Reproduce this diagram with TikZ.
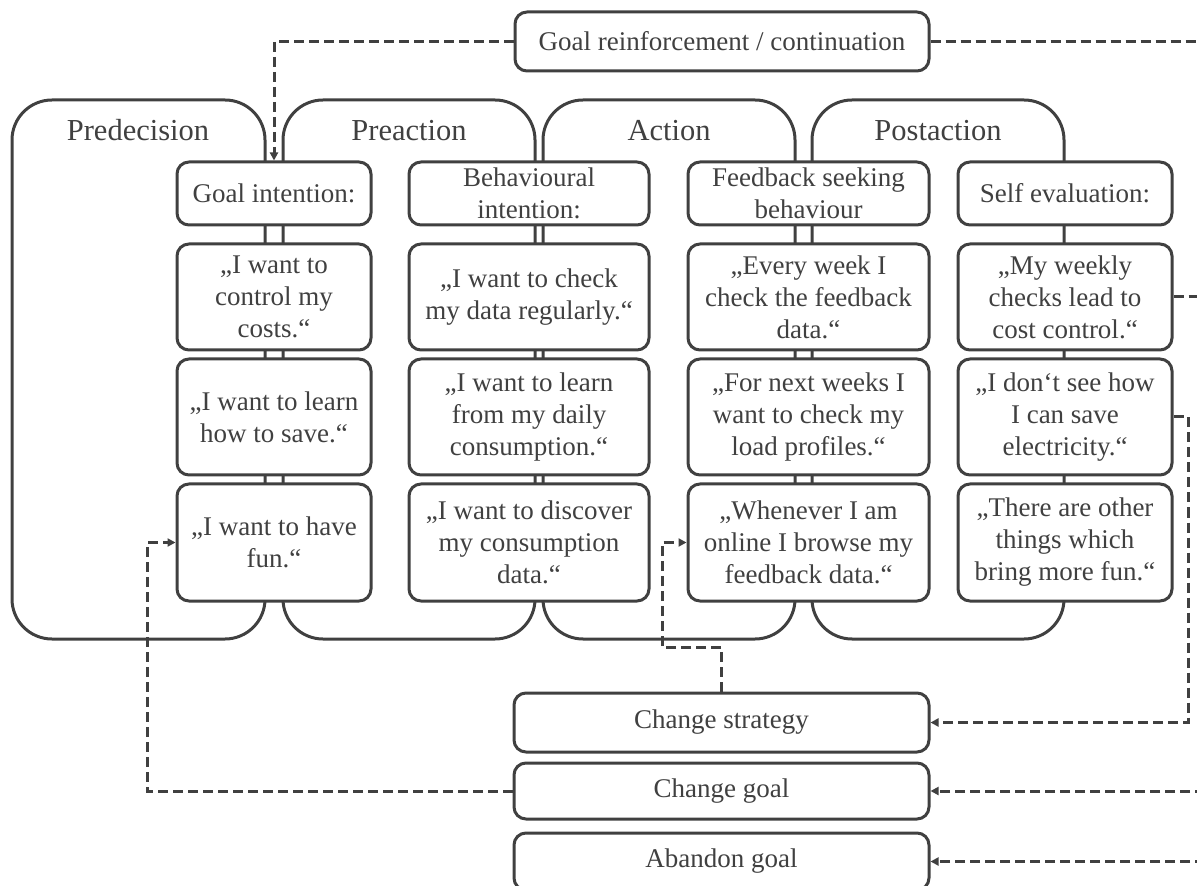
\documentclass[tikz,border=0pt]{standalone}
\usepackage{fontspec}
\setmainfont{Liberation Serif}
\usetikzlibrary{arrows.meta}
\definecolor{ln}{RGB}{64,64,64}
\definecolor{tx}{RGB}{64,64,64}
\begin{document}
\begin{tikzpicture}[x=0.5pt,y=-0.5pt,
  phase/.style={draw=ln, line width=1.5pt, rounded corners=20pt},
  plabel/.style={anchor=base, text=tx, font=\fontsize{15.25}{18}\selectfont},
  ibox/.style={draw=ln, fill=white, line width=1.5pt, rounded corners=6pt, align=center, text=tx, font=\fontsize{13.5}{16}\selectfont, inner sep=0pt},
  cA/.style={minimum width=97pt},
  cB/.style={minimum width=120pt},
  cC/.style={minimum width=120.5pt},
  cD/.style={minimum width=107pt},
  rA/.style={minimum height=31.5pt},
  rB/.style={minimum height=53pt},
  rC/.style={minimum height=58pt},
  rD/.style={minimum height=58.5pt},
  conn/.style={draw=ln, line width=1.5pt, dash pattern=on 5pt off 2.5pt},
  arr/.style={conn, -{Triangle[length=4pt,width=4pt]}},
]
\useasboundingbox (0,0) rectangle (1197,886);
\clip (0,0) rectangle (1197,886);

% phases
\draw[phase] (12,100) rectangle (265,639);
\draw[phase] (283,100) rectangle (535,639);
\draw[phase] (543,100) rectangle (795,639);
\draw[phase] (812,100) rectangle (1064,639);
\node[plabel] (p1) at (138,141) {Predecision};
\node[plabel] (p2) at (409,141) {Preaction};
\node[plabel] (p3) at (669,141) {Action};
\node[plabel] (p4) at (938,141) {Postaction};

% column 1
\node[ibox,cA,rA] (a0) at (274,193.5) {Goal intention:};
\node[ibox,cA,rB] (a1) at (274,297) {„I want to\\control my\\costs.“};
\node[ibox,cA,rC] (a2) at (274,417) {„I want to learn\\how to save.“};
\node[ibox,cA,rD] (a3) at (274,542.5) {„I want to have\\fun.“};
% column 2
\node[ibox,cB,rA] (b0) at (529,193.5) {Behavioural\\intention:};
\node[ibox,cB,rB] (b1) at (529,297) {„I want to check\\my data regularly.“};
\node[ibox,cB,rC] (b2) at (529,417) {„I want to learn\\from my daily\\consumption.“};
\node[ibox,cB,rD] (b3) at (529,542.5) {„I want to discover\\my consumption\\data.“};
% column 3
\node[ibox,cC,rA] (c0) at (808.5,193.5) {Feedback seeking\\behaviour};
\node[ibox,cC,rB] (c1) at (808.5,297) {„Every week I\\check the feedback\\data.“};
\node[ibox,cC,rC] (c2) at (808.5,417) {„For next weeks I\\want to check my\\load profiles.“};
\node[ibox,cC,rD] (c3) at (808.5,542.5) {„Whenever I am\\online I browse my\\feedback data.“};
% column 4
\node[ibox,cD,rA] (d0) at (1065,193.5) {Self evaluation:};
\node[ibox,cD,rB] (d1) at (1065,297) {„My weekly\\checks lead to\\cost control.“};
\node[ibox,cD,rC] (d2) at (1065,417) {„I don‘t see how\\I can save\\electricity.“};
\node[ibox,cD,rD] (d3) at (1065,542.5) {„There are other\\things which\\bring more fun.“};

% top and bottom boxes
\node[ibox,minimum width=207pt,minimum height=29.5pt] (top) at (722,41.5) {Goal reinforcement / continuation};
\node[ibox,minimum width=207.5pt,minimum height=29.5pt] (cs) at (721.5,722.5) {Change strategy};
\node[ibox,minimum width=207.5pt,minimum height=28pt] (cg) at (721.5,791) {Change goal};
\node[ibox,minimum width=207.5pt,minimum height=28.5pt] (ag) at (721.5,861.5) {Abandon goal};

% helper coordinates
\coordinate (edge) at (1205,0);
\coordinate (xr) at (1188,0);
\coordinate (xl) at (147,0);
\coordinate (k1) at (662,647);

% connectors
\draw[arr] (top.west) -| (a0.north);
\draw[conn] (top.east) -- (top.east -| edge);
\draw[conn] (d1.east) -- (d1.east -| edge);
\draw[arr] (d2.east) -- (d2.east -| xr) |- (cs.east);
\draw[arr] (cg.east -| edge) -- (cg.east);
\draw[arr] (ag.east -| edge) -- (ag.east);
\draw[arr] (cg.west) -| (xl |- a3.west) -- (a3.west);
\draw[arr] (cs.north) |- (k1) |- (c3.west);
\end{tikzpicture}
\end{document}
